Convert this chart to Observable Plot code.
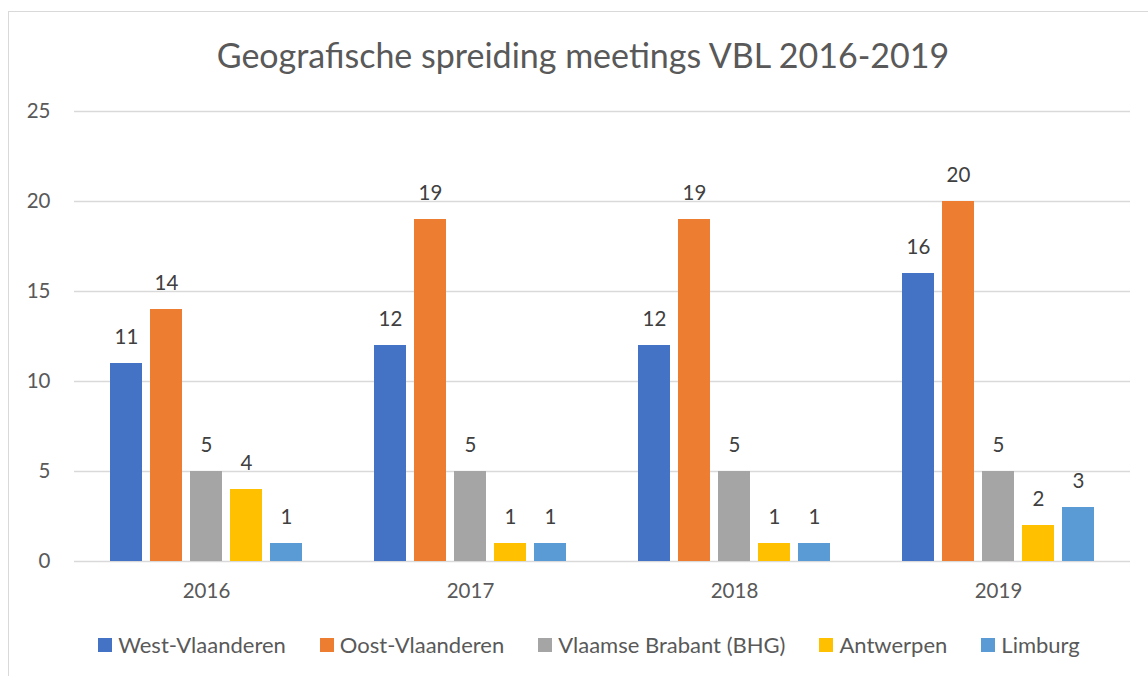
<!DOCTYPE html>
<html>
<head>
<meta charset="utf-8">
<script src="https://cdn.jsdelivr.net/npm/d3@7"></script>
<script src="https://cdn.jsdelivr.net/npm/@observablehq/plot@0.6"></script>
<style>
  html, body { margin: 0; padding: 0; background: #fff; overflow: hidden; }
  #wrap { position: relative; width: 1148px; height: 676px; overflow: hidden; font-family: Lato, "Open Sans", sans-serif; }
  #frame { position: absolute; left: 8px; top: 11px; width: 1200px; height: 700px; border-left: 1.5px solid #d9d9d9; border-top: 1.5px solid #d9d9d9; }
  #title { position: absolute; left: 0; width: 1166px; top: 34px; text-align: center; font-size: 34px; color: #595959; line-height: 42px; }
  #chart { position: absolute; left: 0; top: 80px; }
  #legend { position: absolute; left: 0; width: 1178px; top: 631px; display: flex; justify-content: center; font-size: 22px; color: #595959; line-height: 28px; }
  .item { display: flex; align-items: center; margin: 0 17px; }
  .sw { width: 14px; height: 14px; margin-right: 6px; }
</style>
</head>
<body>
<div id="wrap">
  <div id="frame"></div>
  <div id="title">Geografische spreiding meetings VBL 2016-2019</div>
  <div id="chart"></div>
  <div id="legend"></div>
</div>
<script>
const years = ["2016", "2017", "2018", "2019"];
const regions = ["West-Vlaanderen", "Oost-Vlaanderen", "Vlaamse Brabant (BHG)", "Antwerpen", "Limburg"];
const colors = ["#4472C4", "#ED7D31", "#A5A5A5", "#FFC000", "#5B9BD5"];
const westVlaanderen = [11, 12, 12, 16];
const oostVlaanderen = [14, 19, 19, 20];
const vlaamsBrabant = [5, 5, 5, 5];
const antwerpen = [4, 1, 1, 2];
const limburg = [1, 1, 1, 3];
const yTicks = [0, 5, 10, 15, 20, 25];

const series = [westVlaanderen, oostVlaanderen, vlaamsBrabant, antwerpen, limburg];
const data = [];
years.forEach((yr, i) => regions.forEach((r, j) => data.push({year: yr, region: r, value: series[j][i]})));

const chart = Plot.plot({
  width: 1148,
  height: 530,
  marginLeft: 72,
  marginRight: 17,
  marginTop: 31,
  marginBottom: 49,
  style: {fontFamily: "Lato, 'Open Sans', sans-serif", fontSize: "20px", color: "#595959", background: "transparent"},
  fx: {domain: years, padding: 0, label: null, axis: null},
  x: {domain: regions, paddingInner: 0.21, paddingOuter: 0.87, axis: null},
  y: {domain: [0, 25], axis: null},
  color: {domain: regions, range: colors},
  marks: [
    Plot.ruleY(yTicks, {stroke: "#d9d9d9", strokeWidth: 1.5}),
    Plot.axisY({ticks: yTicks, tickSize: 0, tickPadding: 24, label: null, facetAnchor: "left", fontSize: 20.5, fill: "#595959"}),
    Plot.axisFx({anchor: "bottom", tickSize: 0, tickPadding: 22, label: null, fontSize: 20.5, fill: "#595959"}),
    Plot.barY(data, {fx: "year", x: "region", y: "value", fill: "region"}),
    Plot.text(data, {fx: "year", x: "region", y: "value", text: d => String(d.value), dy: -26, lineAnchor: "middle", fontSize: 20.5, fill: "#404040"})
  ]
});
document.getElementById("chart").appendChild(chart);

const legend = document.getElementById("legend");
regions.forEach((r, j) => {
  const it = document.createElement("div");
  it.className = "item";
  const sw = document.createElement("div");
  sw.className = "sw";
  sw.style.background = colors[j];
  const t = document.createElement("span");
  t.textContent = r;
  it.appendChild(sw); it.appendChild(t);
  legend.appendChild(it);
});
</script>
</body>
</html>
